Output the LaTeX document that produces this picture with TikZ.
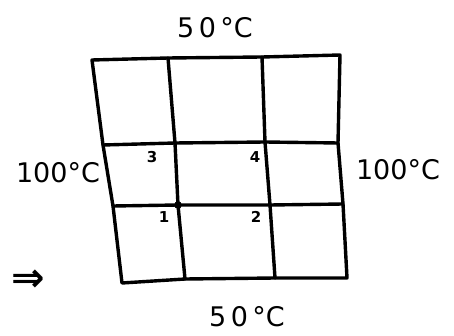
\documentclass[tikz,border=0pt]{standalone}
\usepackage{fontspec}
\setmainfont{DejaVu Sans}
\begin{document}
\begin{tikzpicture}[x=1pt,y=-1pt,
  gridline/.style={line width=3.4pt,line cap=round,line join=round},
  biglabel/.style={font=\fontsize{27}{30}\selectfont},
  numlabel/.style={font=\bfseries\fontsize{15}{17}\selectfont}]
\useasboundingbox (0,0) rectangle (454,336);
% grid corners
\coordinate (a0) at (92,60);  \coordinate (a1) at (168,58); \coordinate (a2) at (262,57); \coordinate (a3) at (340,55);
\coordinate (b0) at (103,145);\coordinate (b1) at (175,143);\coordinate (b2) at (265,142);\coordinate (b3) at (338,143);
\coordinate (c0) at (113,206);\coordinate (c1) at (178,205);\coordinate (c2) at (270,205);\coordinate (c3) at (343,204);
\coordinate (d0) at (122,283);\coordinate (d1) at (185,279);\coordinate (d2) at (275,278);\coordinate (d3) at (347,278);
% outer frame
\draw[gridline] (a0) -- (a1) -- (a2) -- (a3) -- (b3) -- (c3) -- (d3) -- (d2) -- (d1) -- (d0) -- (c0) -- (b0) -- cycle;
% inner lines
\draw[gridline] (a1) -- (b1) -- (c1) -- (d1);
\draw[gridline] (a2) -- (b2) -- (c2) -- (d2);
\draw[gridline] (b0) -- (b1) -- (b2) -- (b3);
\draw[gridline] (c0) -- (c1) -- (c2) -- (c3);
\fill (c1) circle (3.8pt);
% labels
\node[biglabel] (top) at (215,28) {5\,0\,°C};
\node[biglabel] (bottom) at (247,317) {5\,0\,°C};
\node[biglabel] (left) at (58,173) {100°C};
\node[biglabel] (right) at (398,170) {100°C};
\node[numlabel] (n3) at (152,157) {3};
\node[numlabel] (n4) at (255,157) {4};
\node[numlabel] (n1) at (164,217) {1};
\node[numlabel] (n2) at (256,217) {2};
\node[font=\bfseries\fontsize{40}{42}\selectfont] (arr) at (28,281) {⇒};
\end{tikzpicture}
\end{document}
